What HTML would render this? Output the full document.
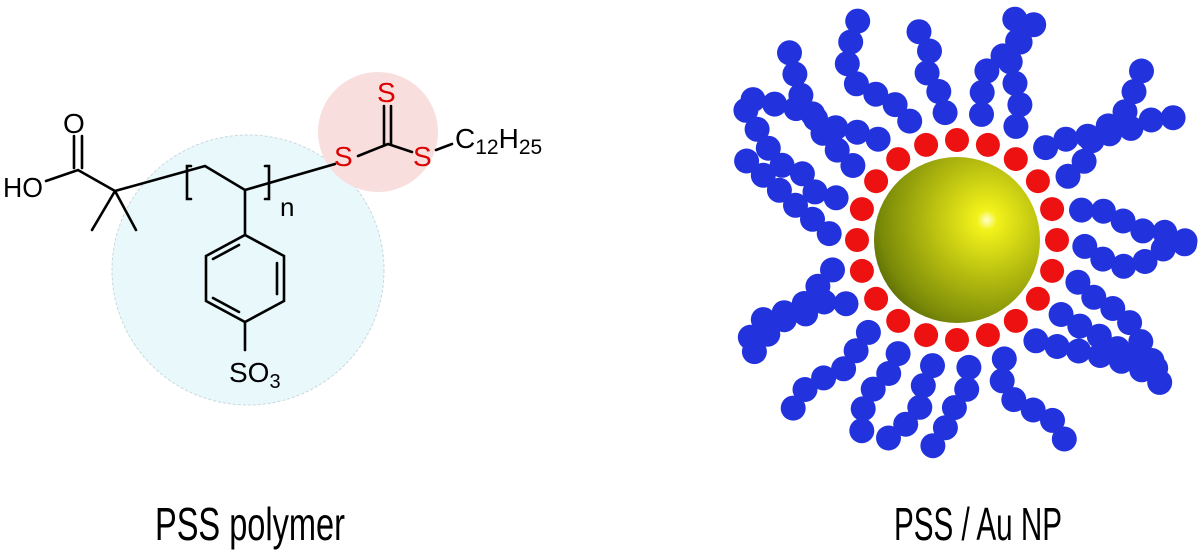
<!DOCTYPE html>
<html><head><meta charset="utf-8"><style>
html,body{margin:0;padding:0;background:#fff;width:1200px;height:551px;overflow:hidden}
svg{display:block}
</style></head><body>
<svg id="s" width="1200" height="551" viewBox="0 0 1200 551" xmlns="http://www.w3.org/2000/svg" font-family="Liberation Sans, Arial, sans-serif">
<defs>
<radialGradient id="g" cx="0.68" cy="0.38" r="0.75">
<stop offset="0" stop-color="#ffffd0"/>
<stop offset="0.08" stop-color="#f2f21a"/>
<stop offset="0.45" stop-color="#b8bf10"/>
<stop offset="0.85" stop-color="#7a8a08"/>
<stop offset="1" stop-color="#5a6a06"/>
</radialGradient>
</defs>
<ellipse cx="248" cy="270" rx="136" ry="135" fill="#e8f8fb" stroke="#c8d8dc" stroke-dasharray="3,2"/>
<circle cx="378" cy="132" r="60" fill="#f9dede"/>
<g stroke="#000" stroke-width="2.6" fill="none" stroke-linecap="round">
<path d="M46 181 L78 170 L115 191 L205 166 L245 190 L335 164"/>
<path d="M74 168 L74 136 M82 168 L82 136"/>
<path d="M115 191 L92 230 M115 191 L136 230"/>
<path d="M191 166 L187 166 L187 199 L191 199 M265 166 L269 166 L269 199 L265 199"/>
<path d="M245 190 L245 235"/>
<path d="M245 235 L284 256 L284 301 L245 322 L206 301 L206 256 Z M245 322 L245 350"/>
<path d="M277 263 L277 294 M239 312 L213 298 M239 245 L213 259"/>
<path d="M358 156 L388 144 L412 152 M384 144 L384 106 M391 144 L391 106 M436 150 L452 144"/>
</g>
<g font-size="28">
<text x="3" y="197" textLength="40" lengthAdjust="spacingAndGlyphs">HO</text>
<text x="63" y="133">O</text>
<text x="280" y="216" font-size="26">n</text>
<text x="229" y="382">SO<tspan font-size="20" dy="6">3</tspan></text>
<text x="334" y="166" fill="#d00">S</text>
<text x="377" y="102" fill="#d00">S</text>
<text x="413" y="166" fill="#d00">S</text>
<text x="455" y="148">C<tspan font-size="21" dy="6">12</tspan><tspan dy="-6">H</tspan><tspan font-size="21" dy="6">25</tspan></text>
</g>
<g id="dots"></g>
<circle cx="957" cy="240" r="83" fill="url(#g)"/>
<g font-size="46" font-family="Liberation Sans Narrow, Liberation Sans, sans-serif">
<text x="155" y="540" textLength="190" lengthAdjust="spacingAndGlyphs">PSS polymer</text>
<text x="894" y="540" textLength="168" lengthAdjust="spacingAndGlyphs">PSS / Au NP</text>
</g>
</svg>
<script>
(function(){
var g=document.getElementById('dots'),cx=957,cy=240,h='';
function c(x,y,col,r){h+='<circle cx="'+x.toFixed(1)+'" cy="'+y.toFixed(1)+'" r="'+r+'" fill="'+col+'"/>';}
var seed=11;function rnd(){seed=(seed*9301+49297)%233280;return seed/233280;}
var N=22;
for(var i=0;i<N;i++){
 var a=i/N*Math.PI*2+0.05;
 var x=cx+128*Math.cos(a),y=cy+128*Math.sin(a);
 var d=a,n=6+Math.floor(rnd()*2);
 for(var k=0;k<n;k++){c(x,y,'#2233dd',12.5);d+=(rnd()-0.5)*1.4;d=a+Math.max(-0.7,Math.min(0.7,d-a));x+=22*Math.cos(d);y+=22*Math.sin(d);
  if(x>1188||x<737||y<10||y>450)break;}
}
for(var j=0;j<20;j++){var b=j/20*Math.PI*2;c(cx+100*Math.cos(b),cy+100*Math.sin(b),'#ee1111',12);}
g.innerHTML=h;
})();
</script>
</body></html>
